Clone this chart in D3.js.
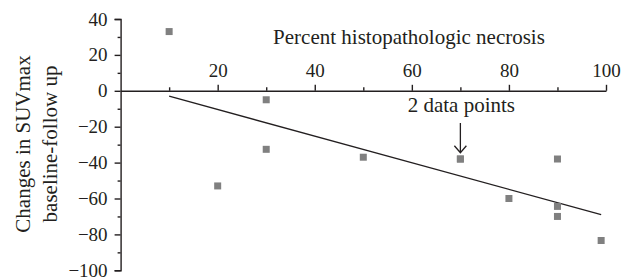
<!DOCTYPE html>
<html>
<head>
<meta charset="utf-8">
<script src="https://cdn.jsdelivr.net/npm/d3@7"></script>
<style>
  body { margin: 0; background: #fff; }
  svg text { font-family: "Liberation Serif", "DejaVu Serif", serif; fill: #231f20; }
</style>
</head>
<body>
<svg id="chart" width="630" height="277"></svg>
<script>
// values
const necrosis  = [10, 20, 30, 30, 50, 70, 70, 80, 90, 90, 90, 99];
const suvChange = [33, -53, -5, -32.6, -37, -38, -38, -60, -38, -64.4, -70, -83.4];
const trendX = [10, 99];
const trendY = [-3, -69];
const xMajor = [20, 40, 60, 80, 100];
const xMinor = [10, 30, 50, 70, 90];
const yMajor = [-100, -80, -60, -40, -20, 0, 20, 40];
const yMinor = [-90, -70, -50, -30, -10, 10, 30];

let svg = d3.select('#chart');

let x = d3.scaleLinear().domain([0, 100]).range([120.6, 606]);
let y = d3.scaleLinear().domain([-100, 40]).range([270.3, 19]);

const fmt = d => d < 0 ? '\u2212' + Math.abs(d) : String(d);

// y axis
svg.append('g').attr('transform', `translate(${x(0)},0)`)
    .call(d3.axisLeft(y).tickValues(yMajor).tickSize(6).tickPadding(7).tickFormat(fmt));
svg.append('g').attr('transform', `translate(${x(0)},0)`)
    .call(d3.axisLeft(y).tickValues(yMinor).tickSize(3).tickFormat(''))
    .select('.domain').remove();

// x axis sits on y = 0, labels above
svg.append('g').attr('transform', `translate(0,${y(0)})`)
    .call(d3.axisTop(x).tickValues(xMajor).tickSize(6).tickSizeOuter(0).tickPadding(8));
svg.append('g').attr('transform', `translate(0,${y(0)})`)
    .call(d3.axisTop(x).tickValues(xMinor).tickSize(3.5).tickFormat(''))
    .select('.domain').remove();

svg.selectAll('.domain, .tick line').attr('stroke', '#231f20').attr('stroke-width', 1.4);
svg.selectAll('.tick text').style('font-size', '19px');

// axis titles
svg.append('text')
    .attr('x', 409).attr('y', 44)
    .attr('text-anchor', 'middle')
    .style('font-size', '21px')
    .text('Percent histopathologic necrosis');

let yTitle = svg.append('text')
    .attr('transform', 'translate(30,144) rotate(-90)')
    .attr('text-anchor', 'middle')
    .style('font-size', '21px');
yTitle.append('tspan').attr('x', 0).attr('y', 0).text('Changes in SUVmax');
yTitle.append('tspan').attr('x', 0).attr('y', 27).text('baseline-follow up');

// trend line
let pts = trendX.map((d, i) => [d, trendY[i]]);
svg.append('path')
    .attr('d', d3.line().x(d => x(d[0])).y(d => y(d[1]))(pts))
    .attr('fill', 'none')
    .attr('stroke', '#231f20')
    .attr('stroke-width', 1.3);

// data points
let sz = 7;
svg.selectAll('rect.pt')
    .data(necrosis)
  .enter().append('rect')
    .attr('class', 'pt')
    .attr('x', d => x(d) - sz / 2)
    .attr('y', (d, i) => y(suvChange[i]) - sz / 2)
    .attr('width', sz)
    .attr('height', sz)
    .attr('fill', '#808080');

// annotation
svg.append('text')
    .attr('x', x(70) + 1).attr('y', y(-12))
    .attr('text-anchor', 'middle')
    .style('font-size', '21px')
    .text('2 data points');

let ax = x(70), a0 = y(-18), a1 = y(-34.5);
svg.append('path')
    .attr('d', `M${ax},${a0}V${a1}M${ax - 6},${a1 - 7}L${ax},${a1}L${ax + 6},${a1 - 7}`)
    .attr('fill', 'none')
    .attr('stroke', '#231f20')
    .attr('stroke-width', 1.3);
</script>
</body>
</html>
